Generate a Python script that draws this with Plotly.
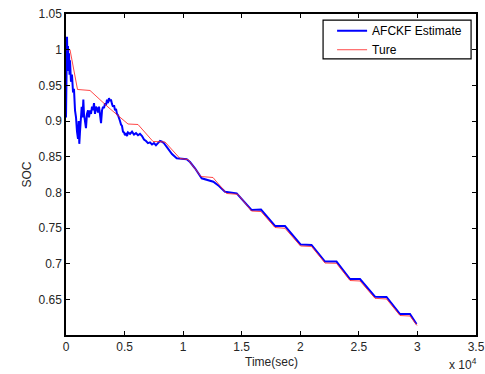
import plotly.graph_objects as go

# True SOC (staircase) - time in seconds
true_t = [0, 341, 982, 2049, 3585, 5293, 6146, 7427, 8451, 9732, 10415, 11524, 12549,
          13701, 14683, 15835, 16646, 17842, 18695, 20018, 20957, 22110, 23091, 24244,
          25098, 26378, 27360, 28512, 29366, 29964]
true_soc = [1.000, 1.000, 0.9442, 0.9428, 0.9196, 0.8958, 0.8951, 0.8713, 0.8706, 0.8474,
            0.8460, 0.8222, 0.8208, 0.7984, 0.7972, 0.7738, 0.7731, 0.7507, 0.7496, 0.7248,
            0.7241, 0.7009, 0.7005, 0.6764, 0.6757, 0.6514, 0.6505, 0.6273, 0.6266, 0.6133]

# AFCKF estimate
est_t = [0, 25, 50, 85, 130, 170, 215, 255, 300, 340, 425, 510, 600, 680, 770, 855, 940,
         1025, 1085, 1135, 1195, 1280, 1340, 1410, 1480, 1535, 1620, 1705, 1790, 1880, 1960,
         2050, 2135, 2220, 2305, 2390, 2475, 2560, 2645, 2730, 2820, 2900, 2990, 3075, 3160,
         3245, 3330, 3415, 3500, 3585, 3670, 3755, 3840, 3925, 4010, 4100, 4185, 4270, 4350,
         4440, 4525, 4610, 4695, 4780, 4865, 4950, 5035, 5120, 5210, 5290, 5465, 5635, 5805,
         5975, 6145, 6315, 6490, 6660, 6830, 7000, 7170, 7340, 7510, 7680, 7850, 8025, 8195,
         8365, 8535, 8707, 9049, 9450, 10304, 10585, 11012, 11584, 12011, 12575, 13061, 13573,
         14572, 15195, 15835, 16646, 17244, 17842, 18695, 19378, 20018, 20957, 21512, 22110,
         23091, 23646, 24244, 25098, 25781, 26378, 27360, 27915, 28512, 29366, 29622, 29921]
est_soc = [0.905, 1.010, 0.975, 1.018, 0.985, 1.005, 0.970, 0.995, 0.965, 0.985, 0.955,
           0.965, 0.940, 0.945, 0.915, 0.905, 0.885, 0.875, 0.900, 0.868, 0.885, 0.905,
           0.920, 0.905, 0.930, 0.910, 0.895, 0.890, 0.910, 0.915, 0.905, 0.915, 0.910,
           0.920, 0.915, 0.925, 0.910, 0.920, 0.918, 0.912, 0.920, 0.910, 0.897, 0.915,
           0.920, 0.918, 0.925, 0.922, 0.930, 0.925, 0.932, 0.928, 0.930, 0.924, 0.920,
           0.922, 0.915, 0.917, 0.910, 0.908, 0.902, 0.900, 0.895, 0.893, 0.885, 0.884,
           0.880, 0.882, 0.879, 0.884, 0.882, 0.885, 0.881, 0.883, 0.880, 0.882, 0.879,
           0.874, 0.872, 0.869, 0.870, 0.867, 0.869, 0.866, 0.869, 0.872, 0.871, 0.869,
           0.865, 0.8607, 0.8537, 0.8477, 0.8463, 0.8425, 0.8337, 0.8197, 0.8173, 0.8149,
           0.8089, 0.8009, 0.7986, 0.7878, 0.7752, 0.7759, 0.7640, 0.7528, 0.7528, 0.7402,
           0.7269, 0.7262, 0.7150, 0.7030, 0.7030, 0.6911, 0.6785, 0.6785, 0.6659, 0.6537,
           0.6533, 0.6420, 0.6294, 0.6294, 0.6224, 0.6154]

x_tickvals = [0, 5000, 10000, 15000, 20000, 25000, 30000, 35000]
x_ticktext = ["0", "0.5", "1", "1.5", "2", "2.5", "3", "3.5"]
y_tickvals = [0.65, 0.7, 0.75, 0.8, 0.85, 0.9, 0.95, 1.0, 1.05]
y_ticktext = ["0.65", "0.7", "0.75", "0.8", "0.85", "0.9", "0.95", "1", "1.05"]

FONT = "Liberation Sans, Arial, sans-serif"
TXT = "#262626"

fig = go.Figure()
fig.add_trace(go.Scatter(x=est_t, y=est_soc, mode="lines", name="AFCKF Estimate",
                         line=dict(color="#0000ff", width=2)))
fig.add_trace(go.Scatter(x=true_t, y=true_soc, mode="lines", name="Ture",
                         line=dict(color="rgba(255,40,40,0.85)", width=1)))

axis_common = dict(showgrid=False, zeroline=False, showline=True, linecolor="black",
                   linewidth=1.5, mirror="ticks", ticks="inside", ticklen=4,
                   tickcolor="black", tickwidth=1, automargin=False,
                   tickfont=dict(family=FONT, size=12, color=TXT))

fig.update_xaxes(range=[0, 35000], tickvals=x_tickvals, ticktext=x_ticktext, **axis_common)
fig.update_yaxes(range=[0.6, 1.05], tickvals=y_tickvals, ticktext=y_ticktext,
                 title=dict(text="SOC", font=dict(family=FONT, size=12, color=TXT),
                            standoff=4), **axis_common)

# x-axis title placed as annotation for exact position
fig.add_annotation(x=0.5, y=0, xref="paper", yref="paper", xanchor="center", yanchor="middle",
                   yshift=-27, showarrow=False, text="Time(sec)",
                   font=dict(family=FONT, size=12, color=TXT))

fig.add_annotation(x=1.0, y=0, xref="paper", yref="paper", xanchor="right", yanchor="top",
                   yshift=-19, xshift=3, showarrow=False,
                   text="x 10<sup>4</sup>", font=dict(family=FONT, size=12, color=TXT))

# legend frame
fig.add_shape(type="rect", xref="paper", yref="paper", x0=0.627, x1=0.988, y0=0.860, y1=0.981,
              line=dict(color="black", width=1.2), fillcolor="rgba(0,0,0,0)", layer="above")

fig.update_layout(
    width=485, height=374,
    margin=dict(l=66, r=9, t=14, b=39),
    paper_bgcolor="white", plot_bgcolor="white",
    showlegend=True,
    legend=dict(x=0.649, y=0.993, xanchor="left", yanchor="top",
                bgcolor="rgba(0,0,0,0)", borderwidth=0,
                font=dict(family=FONT, size=12, color="black"),
                tracegroupgap=0, itemwidth=30),
)

fig.write_html("out.html")
